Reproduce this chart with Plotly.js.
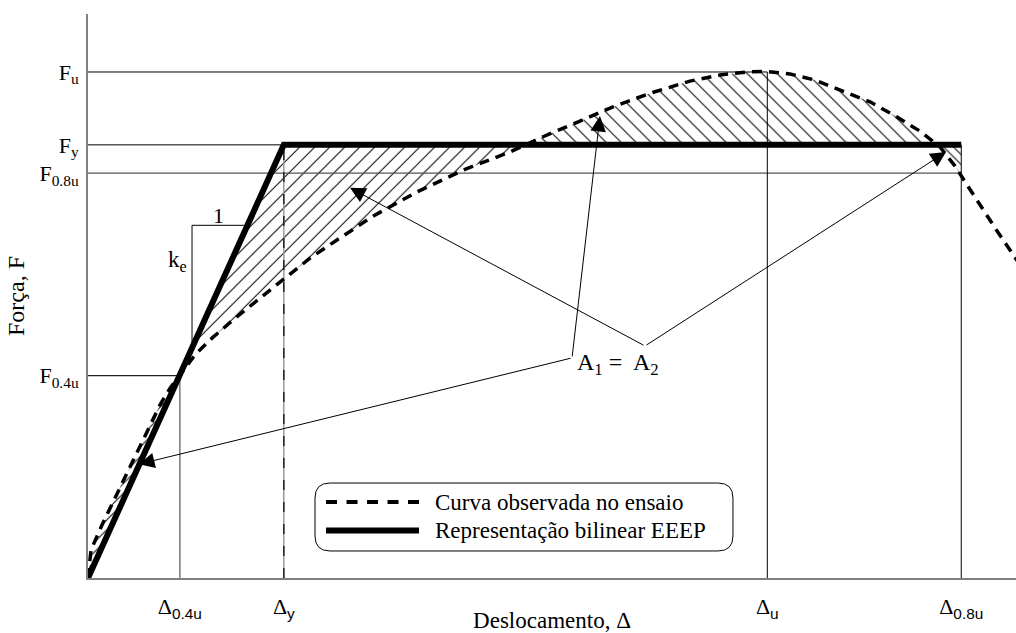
<!DOCTYPE html>
<html><head><meta charset="utf-8">
<script src="https://cdn.plot.ly/plotly-3.0.1.min.js"></script>
<style>html,body{margin:0;padding:0;background:#fff}#chart{width:1016px;height:633px}</style>
</head><body><div id="chart"></div>
<script>
// ---- key values (schematic units) ----
const dispNames  = ['D04', 'Dy', 'Du', 'D08'];
const dispVals   = [0.99, 2.11, 7.32, 9.41];
const dispLabels = ['Δ<sub><span style="font-family:Liberation Sans">0.4u</span></sub>',
                    'Δ<sub><span style="font-family:Liberation Sans">y</span></sub>',
                    'Δ<sub><span style="font-family:Liberation Sans">u</span></sub>',
                    'Δ<sub><span style="font-family:Liberation Sans">0.8u</span></sub>'];
const forceNames  = ['F04', 'F08', 'Fy', 'Fu'];
const forceVals   = [0.40, 0.80, 0.856, 1.00];
const forceLabels = ['F<sub>0.4u</sub>', 'F<sub>0.8u</sub>', 'F<sub>y</sub>', 'F<sub>u</sub>'];

// ---- observed test curve ----
const curveX = [0, 0.032, 0.151, 0.280, 0.388, 0.485, 0.636, 0.776, 0.884, 0.991,
  1.153, 1.336, 1.563, 1.853, 2.123, 2.392, 2.716, 3.071, 3.545, 4.041,
  4.547, 4.903, 5.302, 5.657, 6.056, 6.487, 6.810, 7.101, 7.317, 7.565,
  7.834, 8.136, 8.427, 8.718, 8.966, 9.181, 9.343, 9.472, 9.612, 9.774, 9.935, 10.065];
const curveY = [0, 0.055, 0.105, 0.154, 0.194, 0.233, 0.292, 0.342, 0.375, 0.401,
  0.441, 0.474, 0.510, 0.553, 0.593, 0.632, 0.672, 0.715, 0.763, 0.806,
  0.842, 0.872, 0.903, 0.931, 0.958, 0.982, 0.994, 1.000, 1.001, 0.996,
  0.984, 0.962, 0.941, 0.911, 0.883, 0.852, 0.814, 0.777, 0.737, 0.692, 0.648, 0.613];

const seriesNames = ['Curva observada no ensaio', 'Representação bilinear EEEP'];
const areaLabel = 'A<sub>1</sub> =  A<sub>2</sub>';
const slopeLabels = ['1', 'k<sub>e</sub>'];
const axisTitles = ['Deslocamento, Δ', 'Força, F'];

// callout (annotation) geometry
const calloutVertices = [[5.216, 0.435], [6.002, 0.4585]];
const calloutTargets  = [[[0.55, 0.225], [5.517, 0.913]], [[2.823, 0.771], [9.246, 0.842]]];
const slopeTri = [1.121, 0.697];
const legendBox = [2.446, 0.0534, 6.950, 0.1877];

const xMax = 10.0, yMax = 1.1146;

// ---- derived ----
const D = {}; dispNames.forEach((n, i) => D[n] = dispVals[i]);
const F = {}; forceNames.forEach((n, i) => F[n] = forceVals[i]);
const ke = F.Fy / D.Dy;
const bilX = [0, D.Dy, D.D08];
const bilY = [0, F.Fy, F.Fy];

function crossing(fn, start, dir) {
  for (let i = start; i < curveX.length - 1; i++) {
    const g0 = fn(i), g1 = fn(i + 1);
    if ((dir > 0 && g0 <= 0 && g1 > 0) || (dir < 0 && g0 >= 0 && g1 < 0)) {
      const t = g0 / (g0 - g1);
      return {i: i, x: curveX[i] + t * (curveX[i + 1] - curveX[i]), y: curveY[i] + t * (curveY[i + 1] - curveY[i])};
    }
  }
  return null;
}
const c0 = crossing(i => curveY[i] - ke * curveX[i], 1, -1);     // curve crosses elastic line
const c1 = crossing(i => curveY[i] - F.Fy, c0.i + 1, 1);           // up through Fy
const c2 = crossing(i => curveY[i] - F.Fy, c1.i + 1, -1);          // down through Fy
const c3 = crossing(i => curveX[i] - D.D08, c2.i, 1);              // at Δ0.8u

// hatched regions
const r0x = [], r0y = [];
for (let i = 0; i <= c0.i; i++) { r0x.push(curveX[i]); r0y.push(curveY[i]); }
r0x.push(c0.x); r0y.push(c0.y);

const a1x = [c0.x, D.Dy, c1.x], a1y = [c0.y, F.Fy, F.Fy];
for (let i = c1.i; i > c0.i; i--) { a1x.push(curveX[i]); a1y.push(curveY[i]); }

const a2x = [c1.x], a2y = [F.Fy];
for (let i = c1.i + 1; i <= c2.i; i++) { a2x.push(curveX[i]); a2y.push(curveY[i]); }
a2x.push(c2.x); a2y.push(F.Fy);

const a3x = [c2.x, D.D08, D.D08], a3y = [F.Fy, F.Fy, c3.y];
for (let i = c3.i; i > c2.i; i--) { a3x.push(curveX[i]); a3y.push(curveY[i]); }

function hatch(x, y, shape, size) {
  return {x: x, y: y, type: 'scatter', mode: 'lines', fill: 'toself', line: {width: 0, color: 'rgba(0,0,0,0)'},
    fillcolor: 'rgba(0,0,0,0)', hoverinfo: 'skip', showlegend: false,
    fillpattern: {shape: shape, size: size, solidity: 1 / size, fgcolor: '#000', bgcolor: 'rgba(0,0,0,0)', fillmode: 'replace'}};
}
function seg(x, y, color, width, dash) {
  return {x: x, y: y, type: 'scatter', mode: 'lines', line: {color: color, width: width, dash: dash || 'solid'},
    hoverinfo: 'skip', showlegend: false};
}

const traces = [
  hatch(r0x, r0y, '/', 7),
  hatch(a1x, a1y, '/', 10.6),
  hatch(a2x, a2y, '\\', 10.6),
  hatch(a3x, a3y, '\\', 7),
  // guide lines
  seg([0, D.Du], [F.Fu, F.Fu], '#000', 1),
  seg([0, D.Dy], [F.Fy, F.Fy], '#000', 1),
  seg([0, D.D08], [F.F08, F.F08], '#555', 1.2),
  seg([0, D.D04], [F.F04, F.F04], '#222', 1.2),
  seg([D.D04, D.D04], [0, F.F04], '#555', 1.2),
  seg([D.Dy, D.Dy], [0, F.Fy], '#999', 1.5),
  seg([D.Dy, D.Dy], [0, F.Fy], '#222', 1.5, '10px,12px'),
  seg([D.Du, D.Du], [0, F.Fu], '#000', 1),
  seg([D.D08, D.D08], [0, F.Fy], '#000', 1),
  // slope triangle
  seg([slopeTri[0], slopeTri[0], slopeTri[1] / ke], [ke * slopeTri[0], slopeTri[1], slopeTri[1]], '#000', 1),
  // observed curve
  {x: curveX, y: curveY, type: 'scatter', mode: 'lines', name: seriesNames[0],
   line: {color: '#000', width: 3.5, dash: '10px,7px'}, hoverinfo: 'skip', showlegend: false},
  // EEEP bilinear
  {x: bilX, y: bilY, type: 'scatter', mode: 'lines', name: seriesNames[1],
   line: {color: '#000', width: 6}, hoverinfo: 'skip', showlegend: false}
];

const serif = '"Liberation Serif", "Times New Roman", serif';
const annotations = [];
calloutVertices.forEach((v, k) => {
  calloutTargets[k].forEach(t => {
    annotations.push({x: t[0], y: t[1], ax: v[0], ay: v[1], xref: 'x', yref: 'y', axref: 'x', ayref: 'y',
      text: '', showarrow: true, arrowhead: 2, arrowsize: 3.1, arrowwidth: 1, arrowcolor: '#000'});
  });
});
annotations.push({x: 5.706, y: 0.423, xref: 'x', yref: 'y', text: areaLabel, showarrow: false,
  font: {family: serif, size: 24, color: '#000'}});
annotations.push({x: 1.406, y: 0.717, xref: 'x', yref: 'y', text: slopeLabels[0], showarrow: false,
  font: {family: serif, size: 22, color: '#000'}});
annotations.push({x: 1.09, y: 0.626, xref: 'x', yref: 'y', text: slopeLabels[1], showarrow: false, xanchor: 'right',
  font: {family: serif, size: 23, color: '#000'}});
// legend text
const lb = legendBox;
const legRowY = [lb[1] + (lb[3] - lb[1]) * 0.72, lb[1] + (lb[3] - lb[1]) * 0.30];
const legLineX = [2.565, 3.567], legTextX = 3.72;
seriesNames.forEach((n, k) => annotations.push({x: legTextX, y: legRowY[k], xref: 'x', yref: 'y', text: n,
  showarrow: false, xanchor: 'left', font: {family: serif, size: 23, color: '#000'}}));

const rx = 0.1616, ry = 0.0296;
const boxPath = `M${lb[0] + rx},${lb[1]} L${lb[2] - rx},${lb[1]} Q${lb[2]},${lb[1]} ${lb[2]},${lb[1] + ry} ` +
  `L${lb[2]},${lb[3] - ry} Q${lb[2]},${lb[3]} ${lb[2] - rx},${lb[3]} L${lb[0] + rx},${lb[3]} ` +
  `Q${lb[0]},${lb[3]} ${lb[0]},${lb[3] - ry} L${lb[0]},${lb[1] + ry} Q${lb[0]},${lb[1]} ${lb[0] + rx},${lb[1]} Z`;
const shapes = [
  {type: 'path', xref: 'x', yref: 'y', path: boxPath, line: {color: '#000', width: 1}, fillcolor: 'rgba(0,0,0,0)'},
  {type: 'line', xref: 'x', yref: 'y', x0: legLineX[0], x1: legLineX[1], y0: legRowY[0], y1: legRowY[0],
   line: {color: '#000', width: 4, dash: '11px,9.5px'}},
  {type: 'line', xref: 'x', yref: 'y', x0: legLineX[0], x1: legLineX[1], y0: legRowY[1], y1: legRowY[1],
   line: {color: '#000', width: 6}}
];

const layout = {
  width: 1016, height: 633,
  margin: {l: 88, r: 0, t: 14, b: 55},
  paper_bgcolor: '#fff', plot_bgcolor: '#fff',
  showlegend: false,
  font: {family: serif, color: '#000', size: 22},
  xaxis: {range: [0, xMax], showgrid: false, zeroline: false, showline: true, linecolor: '#808080', linewidth: 2,
    ticks: '', tickvals: dispVals, ticktext: dispLabels, tickfont: {family: serif, size: 22, color: '#000'},
    ticklabelstandoff: 8,
    title: {text: axisTitles[0], font: {family: serif, size: 23, color: '#000'}, standoff: 2}},
  yaxis: {range: [0, yMax], showgrid: false, zeroline: false, showline: true, linecolor: '#808080', linewidth: 2,
    ticks: '', tickvals: forceVals, ticktext: forceLabels, tickfont: {family: serif, size: 22, color: '#000'},
    ticklabelstandoff: 3,
    title: {text: axisTitles[1], font: {family: serif, size: 24, color: '#000'}, standoff: 8}},
  annotations: annotations,
  shapes: shapes
};

Plotly.newPlot('chart', traces, layout, {displayModeBar: false});
</script>
</body></html>
